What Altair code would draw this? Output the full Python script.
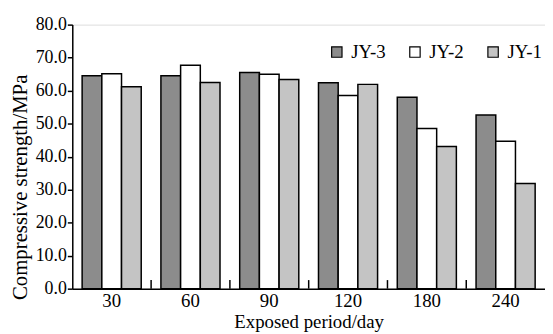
import altair as alt
import pandas as pd

periods = ["30", "60", "90", "120", "180", "240"]
series = ["JY-3", "JY-2", "JY-1"]
jy3 = [64.5, 64.5, 65.5, 62.4, 58.0, 52.6]
jy2 = [65.1, 67.7, 65.0, 58.5, 48.5, 44.7]
jy1 = [61.2, 62.5, 63.4, 61.9, 43.1, 31.9]
fills = ["#8c8c8c", "#ffffff", "#c4c4c4"]
y_ticks = [0, 10, 20, 30, 40, 50, 60, 70, 80]

rows = []
for name, vals in zip(series, [jy3, jy2, jy1]):
    for p, v in zip(periods, vals):
        rows.append({"period": p, "series": name, "value": v})
df = pd.DataFrame(rows)

FONT = "Liberation Serif"
xscale = alt.Scale(paddingInner=0.25, paddingOuter=0.125)
yscale = alt.Scale(domain=[0, 80])

x_axis = alt.Axis(title="Exposed period/day", labelAngle=0, ticks=False,
                  domainColor="black", domainWidth=1.5,
                  labelFont=FONT, labelFontSize=19, labelColor="black",
                  labelPadding=3, titleFont=FONT, titleFontSize=19,
                  titleFontWeight="normal", titleColor="black", titlePadding=2)
y_axis = alt.Axis(title="Compressive strength/MPa", values=y_ticks,
                  format=".1f", grid=False, tickSize=5, tickColor="black",
                  tickWidth=1.5, domainColor="black", domainWidth=1.5,
                  labelOverlap=False, labelFont=FONT, labelFontSize=18,
                  labelColor="black", labelPadding=1, titleFont=FONT,
                  titleFontSize=21, titleFontWeight="normal", titleColor="black",
                  titleX=-46, titleY=164, titleAngle=270, titleAlign="center",
                  titleBaseline="alphabetic")

bars = alt.Chart(df).mark_bar(stroke="black", strokeWidth=1.5).encode(
    x=alt.X("period:N", sort=periods, scale=xscale, axis=x_axis),
    xOffset=alt.XOffset("series:N", sort=series),
    y=alt.Y("value:Q", scale=yscale, axis=y_axis),
    fill=alt.Fill("series:N", sort=series,
                  scale=alt.Scale(domain=series, range=fills),
                  legend=alt.Legend(title=None, orient="none", legendX=258, legendY=18,
                                    direction="horizontal", symbolType="square",
                                    symbolSize=110, symbolStrokeColor="black",
                                    symbolStrokeWidth=1.2, labelFont=FONT,
                                    labelFontSize=19, labelColor="black",
                                    labelOffset=5, columnPadding=20)),
)

tick_df = pd.DataFrame({"period": periods[:-1]})
ticks = alt.Chart(tick_df).mark_rule(color="black", strokeWidth=1.5, xOffset=10).encode(
    x=alt.X("period:N", sort=periods, scale=xscale, bandPosition=1, axis=x_axis),
    y=alt.YDatum(0, scale=yscale, axis=y_axis),
    y2=alt.datum(2.6),
)

chart = alt.layer(bars, ticks).properties(
    width=478, height=267,
    autosize=alt.AutoSizeParams(type="none"),
    padding={"left": 65, "top": 15, "right": 0, "bottom": 43},
).configure_view(stroke=None, strokeWidth=0).configure(background="white")

chart.save("out.html", embed_options={"renderer": "svg", "actions": False})
